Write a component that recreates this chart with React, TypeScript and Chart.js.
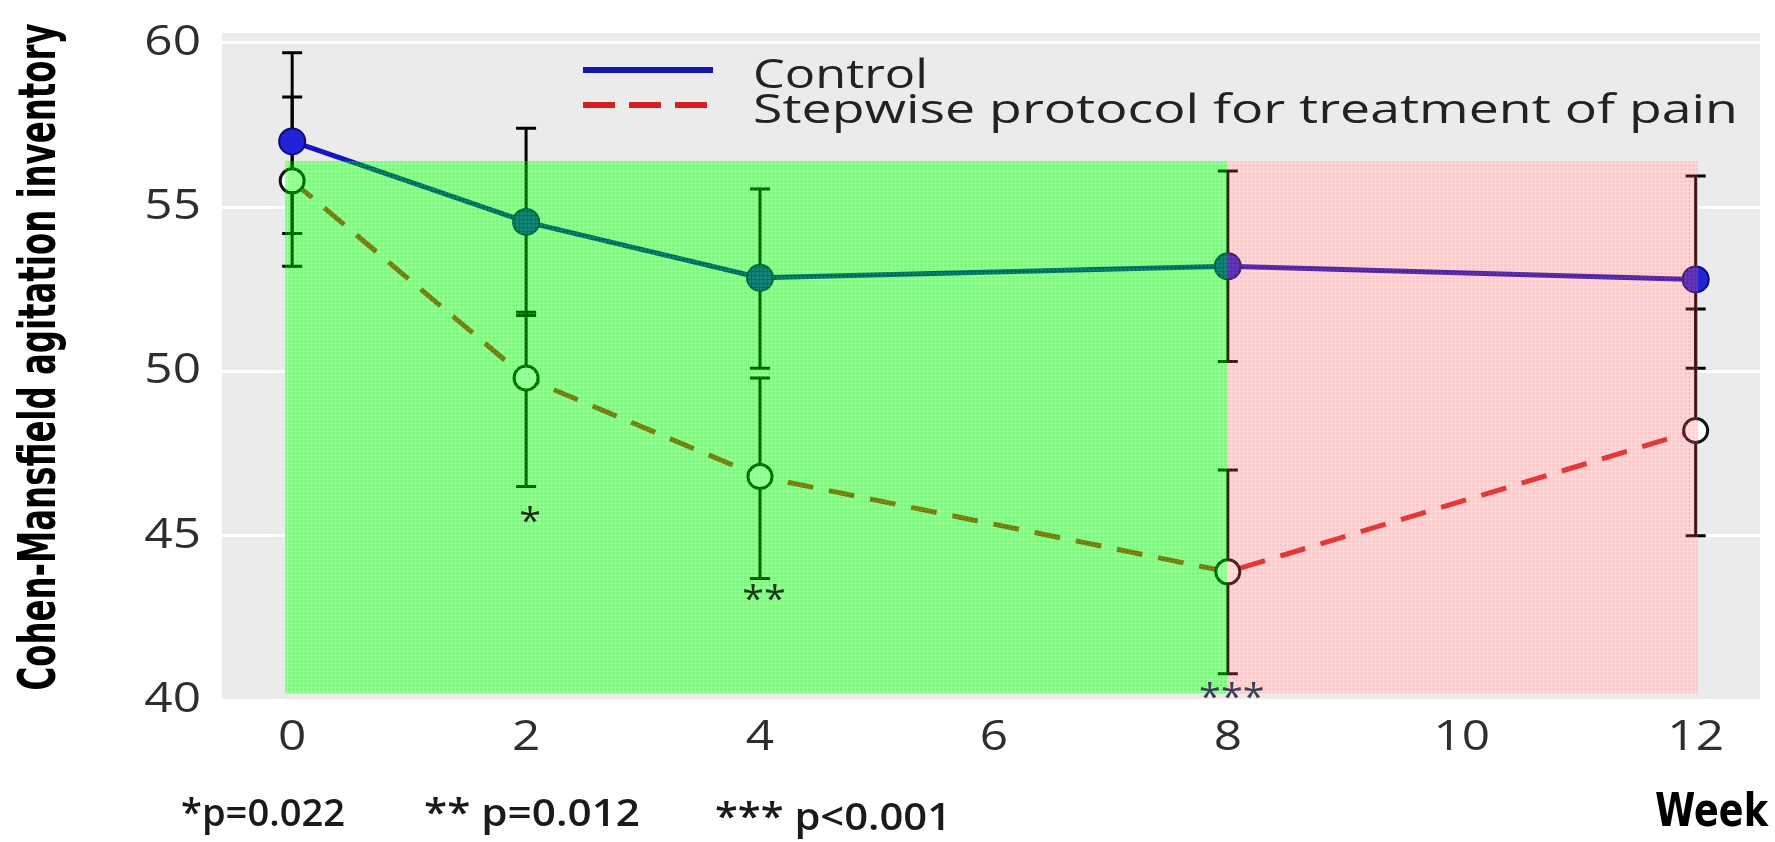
import React, { useEffect, useRef } from 'react';
import { Chart, registerables } from 'chart.js';

Chart.register(...registerables);

// ---------- data ----------
const weeks = [0, 2, 4, 8, 12];
const controlMean = [57.0, 54.55, 52.85, 53.2, 52.8];
const controlLow = [54.2, 51.7, 50.1, 50.3, 50.1];
const controlHigh = [59.7, 57.4, 55.55, 56.1, 55.95];
const stepwiseMean = [55.8, 49.8, 46.8, 43.9, 48.2];
const stepwiseLow = [53.2, 46.5, 43.7, 40.8, 45.0];
const stepwiseHigh = [58.35, 51.8, 49.8, 47.0, 51.9];

const seriesLabels = ['Control', 'Stepwise protocol for treatment of pain'];
const xTickValues = [0, 2, 4, 6, 8, 10, 12];
const yTickValues = [40, 45, 50, 55, 60];
const yAxisTitle = 'Cohen-Mansfield agitation inventory';
const xAxisTitle = 'Week';
const footnotes = ['*p=0.022', '** p=0.012', '*** p<0.001'];

const sigWeeks = [2, 4, 8];
const sigMarks = ['*', '**', '***'];
const sigValues = [45.65, 43.3, 40.3];

const phaseStarts = [-0.06, 8];
const phaseEnds = [8, 12.02];
const phaseTop = 56.4;
const phaseBottom = 40.2;

// ---------- drawing helpers ----------
const W = 1775;
const H = 842;

function makePattern(ctx: CanvasRenderingContext2D, base: string, line: string) {
  const c = document.createElement('canvas');
  c.width = 4;
  c.height = 4;
  const p = c.getContext('2d')!;
  p.fillStyle = base;
  p.fillRect(0, 0, 3, 3);
  p.fillStyle = line;
  p.fillRect(3, 0, 1, 4);
  p.fillRect(0, 3, 3, 1);
  return ctx.createPattern(c, 'repeat')!;
}

function drawText(
  ctx: CanvasRenderingContext2D,
  text: string,
  x: number,
  y: number,
  font: string,
  color: string,
  align: CanvasTextAlign,
  baseline: CanvasTextBaseline,
  opts: { width?: number; sx?: number; rotate?: number } = {}
) {
  ctx.save();
  ctx.font = font;
  ctx.fillStyle = color;
  ctx.textAlign = align;
  ctx.textBaseline = baseline;
  const w = ctx.measureText(text).width;
  const sx = opts.width ? opts.width / w : opts.sx ?? 1;
  ctx.translate(x, y);
  if (opts.rotate) ctx.rotate(opts.rotate);
  ctx.scale(sx, 1);
  ctx.fillText(text, 0, 0);
  ctx.restore();
}

const TICK_FONT = '400 42px "Open Sans", "DejaVu Sans", sans-serif';
const TICK_COLOR = '#2e2e2e';

const phaseUnder = ['#ebebeb', '#f4f4f4'];

const decorPlugin = {
  id: 'decor',
  beforeDraw(chart: any) {
    const { ctx, chartArea: a } = chart;
    ctx.save();
    ctx.fillStyle = '#ffffff';
    ctx.fillRect(0, 0, W, H);
    ctx.fillStyle = '#ebebeb';
    ctx.fillRect(a.left, a.top, a.right - a.left, a.bottom - a.top);
    ctx.restore();
  },
  beforeDatasetsDraw(chart: any) {
    const { ctx } = chart;
    const xs = chart.scales.x;
    const ys = chart.scales.y;
    ctx.save();
    // hide grid under shaded phases
    phaseStarts.forEach((s, i) => {
      const x0 = xs.getPixelForValue(s);
      const x1 = xs.getPixelForValue(phaseEnds[i]);
      const y0 = ys.getPixelForValue(phaseTop);
      const y1 = ys.getPixelForValue(phaseBottom);
      ctx.fillStyle = phaseUnder[i];
      ctx.fillRect(x0, y0, x1 - x0, y1 - y0);
    });
    // error bars
    ctx.strokeStyle = '#000000';
    ctx.lineWidth = 3;
    const cap = 10;
    const bars = [
      [controlLow, controlHigh],
      [stepwiseLow, stepwiseHigh],
    ];
    bars.forEach(([lo, hi]) => {
      weeks.forEach((wk, i) => {
        const x = xs.getPixelForValue(wk);
        const yl = ys.getPixelForValue(lo[i]);
        const yh = ys.getPixelForValue(hi[i]);
        ctx.beginPath();
        ctx.moveTo(x, yl);
        ctx.lineTo(x, yh);
        ctx.moveTo(x - cap, yl);
        ctx.lineTo(x + cap, yl);
        ctx.moveTo(x - cap, yh);
        ctx.lineTo(x + cap, yh);
        ctx.stroke();
      });
    });
    ctx.restore();
  },
  afterDatasetsDraw(chart: any) {
    const { ctx } = chart;
    const xs = chart.scales.x;
    const ys = chart.scales.y;
    // phase shading overlays
    const fills = [
      makePattern(ctx, 'rgba(0,255,0,0.45)', 'rgba(0,255,0,0.26)'),
      makePattern(ctx, 'rgba(255,110,110,0.30)', 'rgba(255,110,110,0.17)'),
    ];
    ctx.save();
    phaseStarts.forEach((s, i) => {
      const x0 = xs.getPixelForValue(s);
      const x1 = xs.getPixelForValue(phaseEnds[i]);
      const y0 = ys.getPixelForValue(phaseTop);
      const y1 = ys.getPixelForValue(phaseBottom);
      ctx.fillStyle = fills[i];
      ctx.fillRect(x0, y0, x1 - x0, y1 - y0);
    });
    ctx.restore();
    // significance marks
    const sigColors = ['#1c2a1c', '#163a16', '#3a3f55'];
    sigWeeks.forEach((wk, i) => {
      drawText(
        ctx,
        sigMarks[i],
        xs.getPixelForValue(wk) + 4,
        ys.getPixelForValue(sigValues[i]) + 19,
        '400 36px "Open Sans", sans-serif',
        sigColors[i],
        'center',
        'alphabetic',
        { sx: 1.1 }
      );
    });
  },
  afterDraw(chart: any) {
    const { ctx } = chart;
    const xs = chart.scales.x;
    const ys = chart.scales.y;
    // y tick labels
    yTickValues.forEach((v) => {
      drawText(ctx, String(v), 201, ys.getPixelForValue(v), TICK_FONT, TICK_COLOR, 'right', 'middle', { sx: 1.18 });
    });
    // x tick labels
    xTickValues.forEach((v) => {
      drawText(ctx, String(v), xs.getPixelForValue(v), 738, TICK_FONT, TICK_COLOR, 'center', 'middle', { sx: 1.18 });
    });
    // y axis title
    drawText(
      ctx,
      yAxisTitle,
      41,
      357,
      'bold 52px "DejaVu Sans Condensed", "Liberation Sans Narrow", "DejaVu Sans", sans-serif',
      '#000000',
      'center',
      'middle',
      { width: 667, rotate: -Math.PI / 2 }
    );
    // x axis title
    drawText(ctx, xAxisTitle, 1768, 814, 'bold 46px "DejaVu Sans", sans-serif', '#000000', 'right', 'middle', { width: 113 });
    // footnotes
    const fnX = [181, 424, 715];
    const fnW = [164, 216, 236];
    const fnY = [815, 815, 819];
    footnotes.forEach((t, i) => {
      drawText(ctx, t, fnX[i], fnY[i], '600 38px "Open Sans", "DejaVu Sans", sans-serif', '#1a1a1a', 'left', 'middle', { width: fnW[i] });
    });
    // legend
    ctx.save();
    ctx.lineWidth = 6;
    ctx.strokeStyle = '#1414b0';
    ctx.beginPath();
    ctx.moveTo(583, 70);
    ctx.lineTo(713, 70);
    ctx.stroke();
    ctx.strokeStyle = '#d42020';
    ctx.setLineDash([32, 14]);
    ctx.beginPath();
    ctx.moveTo(583, 105);
    ctx.lineTo(713, 105);
    ctx.stroke();
    ctx.restore();
    const LEG_FONT = '400 41px "Open Sans", "DejaVu Sans", sans-serif';
    drawText(ctx, seriesLabels[0], 753, 76, LEG_FONT, '#222222', 'left', 'middle', { width: 175 });
    drawText(ctx, seriesLabels[1], 753, 111, LEG_FONT, '#222222', 'left', 'middle', { width: 985 });
  },
};

export default function App() {
  const ref = useRef<HTMLCanvasElement | null>(null);

  useEffect(() => {
    document.body.style.margin = '0';
    const canvas = ref.current!;
    const chart = new Chart(canvas, {
      type: 'line',
      data: {
        datasets: [
          {
            label: seriesLabels[0],
            data: weeks.map((w, i) => ({ x: w, y: controlMean[i] })),
            borderColor: '#1616c4',
            borderWidth: 5,
            pointRadius: 13,
            pointBackgroundColor: '#2222d8',
            pointBorderColor: '#0c0c78',
            pointBorderWidth: 2,
            tension: 0,
          },
          {
            label: seriesLabels[1],
            data: weeks.map((w, i) => ({ x: w, y: stepwiseMean[i] })),
            borderColor: '#dc2626',
            borderWidth: 5,
            borderDash: [26, 16],
            pointRadius: 12,
            pointBackgroundColor: '#ffffff',
            pointBorderColor: '#111111',
            pointBorderWidth: 3,
            tension: 0,
          },
        ],
      },
      options: {
        animation: false,
        responsive: false,
        devicePixelRatio: 1,
        layout: { padding: { left: 0, top: 33, right: 13, bottom: 0 } },
        plugins: { legend: { display: false }, tooltip: { enabled: false }, title: { display: false } },
        scales: {
          x: {
            type: 'linear',
            min: -0.6,
            max: 12.55,
            grid: { display: false },
            border: { display: false },
            ticks: { display: false },
            afterBuildTicks: (s: any) => {
              s.ticks = xTickValues.map((v) => ({ value: v }));
            },
            afterFit: (s: any) => {
              s.height = 142;
            },
          },
          y: {
            type: 'linear',
            min: 40,
            max: 60.3,
            grid: { color: '#ffffff', lineWidth: 3, drawTicks: false },
            border: { display: false },
            ticks: { display: false },
            afterBuildTicks: (s: any) => {
              s.ticks = yTickValues.map((v) => ({ value: v }));
            },
            afterFit: (s: any) => {
              s.width = 222;
            },
          },
        },
      },
      plugins: [decorPlugin],
    } as any);
    return () => chart.destroy();
  }, []);

  return <canvas ref={ref} width={W} height={H} style={{ display: 'block' }} />;
}
